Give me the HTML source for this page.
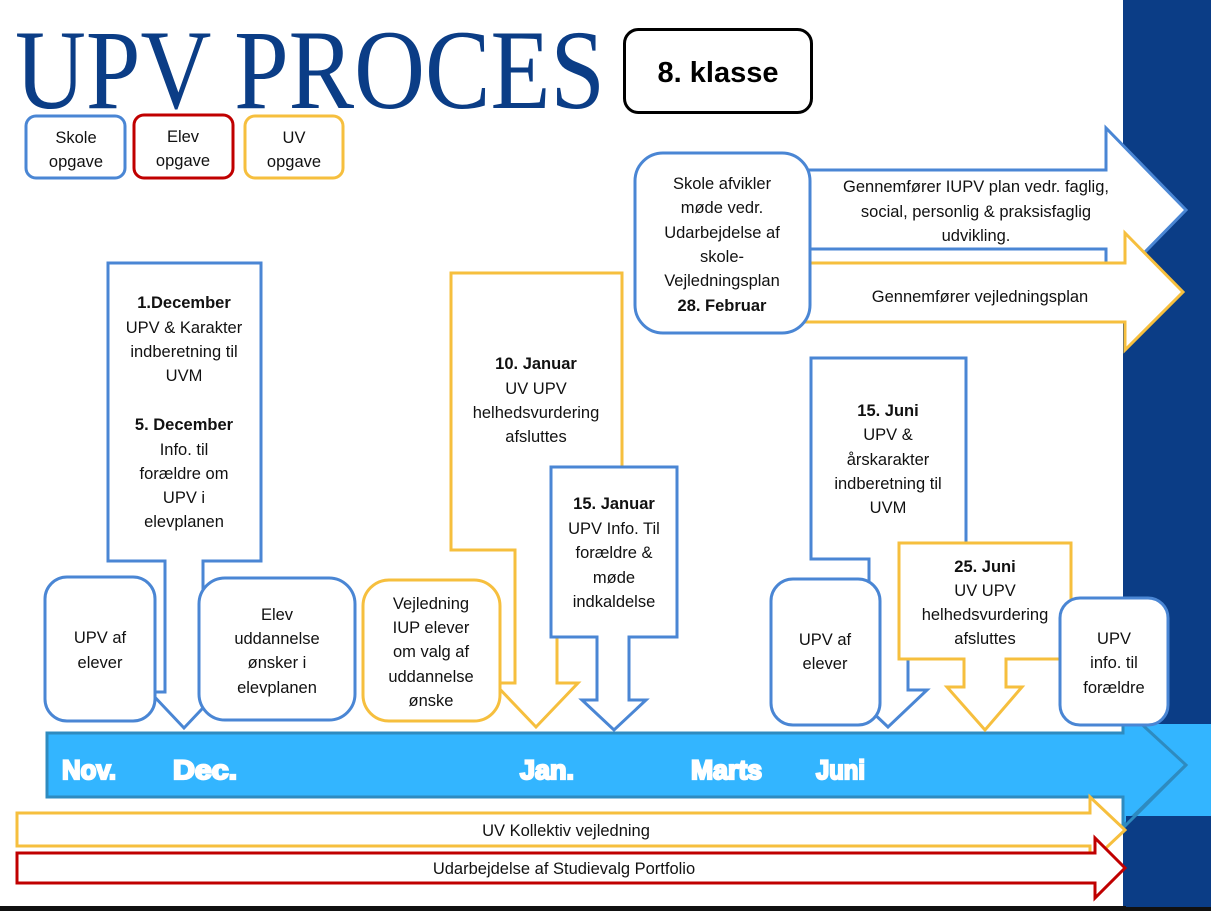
<!DOCTYPE html>
<html><head><meta charset="utf-8"><style>
html,body{margin:0;padding:0;background:#fff;}
svg{display:block;}
text{font-family:"Liberation Sans",sans-serif;font-size:16.5px;fill:#111;}
.b{font-weight:bold;}
</style></head><body>
<svg width="1211" height="911" viewBox="0 0 1211 911" xmlns="http://www.w3.org/2000/svg">
<rect width="1211" height="911" fill="#fff"/>
<!-- right navy band -->
<rect x="1123" y="0" width="88" height="907" fill="#0b3d86"/>
<rect x="1123" y="724" width="88" height="92" fill="#33b5ff"/>
<rect x="0" y="906" width="1211" height="5" fill="#111"/>

<!-- timeline -->
<polygon points="47,733 1123,733 1123,707 1186,765 1123,826 1123,797 47,797" fill="#33b5ff" stroke="#2e8bc0" stroke-width="3"/>
<rect x="1123" y="0" width="88" height="724" fill="#0b3d86"/>
<rect x="1126" y="816" width="85" height="91" fill="#0b3d86"/>
<line x1="1186" y1="765" x2="1124" y2="827" stroke="#2e8bc0" stroke-width="3"/>
<g style="font-family:'Liberation Sans',sans-serif;font-weight:900;font-size:27px;stroke:#fff;stroke-width:2.2;">
<text x="62" y="779" textLength="54" lengthAdjust="spacingAndGlyphs" style="fill:#fff;font-size:27px;font-weight:bold">Nov.</text>
<text x="173" y="779" textLength="64" lengthAdjust="spacingAndGlyphs" style="fill:#fff;font-size:27px;font-weight:bold">Dec.</text>
<text x="520" y="779" textLength="54" lengthAdjust="spacingAndGlyphs" style="fill:#fff;font-size:27px;font-weight:bold">Jan.</text>
<text x="691" y="779" textLength="71" lengthAdjust="spacingAndGlyphs" style="fill:#fff;font-size:27px;font-weight:bold">Marts</text>
<text x="816" y="779" textLength="49" lengthAdjust="spacingAndGlyphs" style="fill:#fff;font-size:27px;font-weight:bold">Juni</text>
</g>

<!-- title -->
<text x="15" y="108" textLength="590" lengthAdjust="spacingAndGlyphs" style="font-family:'Liberation Serif',serif;font-size:113px;fill:#0b3d86;">UPV PROCES</text>
<rect x="624.5" y="29.5" width="187" height="83" rx="14" fill="#fff" stroke="#000" stroke-width="3"/>
<text x="718" y="82" text-anchor="middle" class="b" style="font-size:29px;fill:#000;">8. klasse</text>

<!-- legend -->
<rect x="26" y="116" width="99" height="62" rx="10" fill="#fff" stroke="#4a86d4" stroke-width="3"/>
<rect x="134" y="115" width="99" height="63" rx="10" fill="#fff" stroke="#c00000" stroke-width="3"/>
<rect x="245" y="116" width="98" height="62" rx="10" fill="#fff" stroke="#f6bf3e" stroke-width="3"/>
<g text-anchor="middle">
<text x="76" y="143">Skole</text><text x="76" y="167">opgave</text>
<text x="183" y="142">Elev</text><text x="183" y="166">opgave</text>
<text x="294" y="143">UV</text><text x="294" y="167">opgave</text>
</g>

<!-- top right arrows -->
<polygon points="808,170 1106,170 1106,128 1186,210 1106,292 1106,249 808,249" fill="#fff" stroke="#4a86d4" stroke-width="3"/>
<polygon points="800,263 1125,263 1125,233 1183,292 1125,350 1125,322 800,322" fill="#fff" stroke="#f6bf3e" stroke-width="3"/>
<rect x="635" y="153" width="175" height="180" rx="28" fill="#fff" stroke="#4a86d4" stroke-width="3"/>
<g text-anchor="middle">
<text x="722" y="189">Skole afvikler</text>
<text x="722" y="213">møde vedr.</text>
<text x="722" y="238">Udarbejdelse af</text>
<text x="722" y="262">skole-</text>
<text x="722" y="286">Vejledningsplan</text>
<text x="722" y="311" class="b">28. Februar</text>
<text x="976" y="192">Gennemfører IUPV plan vedr. faglig,</text>
<text x="976" y="217">social, personlig &amp; praksisfaglig</text>
<text x="976" y="241">udvikling.</text>
<text x="980" y="302">Gennemfører vejledningsplan</text>
</g>

<!-- bottom arrows -->
<polygon points="17,813 1090,813 1090,797 1125,830 1090,863 1090,846 17,846" fill="#fff" stroke="#f6bf3e" stroke-width="3"/>
<polygon points="17,853 1095,853 1095,838 1125,868 1095,898 1095,883 17,883" fill="#fff" stroke="#c00000" stroke-width="3"/>
<g text-anchor="middle">
<text x="566" y="836">UV Kollektiv vejledning</text>
<text x="564" y="874">Udarbejdelse af Studievalg Portfolio</text>
</g>

<!-- callouts -->
<polygon points="108,263 261,263 261,561 203,561 203,692 218,692 184,728 150,692 165,692 165,561 108,561" fill="#fff" stroke="#4a86d4" stroke-width="3"/>
<polygon points="451,273 622,273 622,550 557,550 557,683 578,683 536,727 494,683 515,683 515,550 451,550" fill="#fff" stroke="#f6bf3e" stroke-width="3"/>
<polygon points="551,467 677,467 677,637 629,637 629,700 646,700 614,730 582,700 597,700 597,637 551,637" fill="#fff" stroke="#4a86d4" stroke-width="3"/>
<polygon points="811,358 966,358 966,559 908,559 908,690 927,690 888,727 849,690 869,690 869,559 811,559" fill="#fff" stroke="#4a86d4" stroke-width="3"/>
<polygon points="899,543 1071,543 1071,659 1006,659 1006,687 1022,687 985,730 947,687 964,687 964,659 899,659" fill="#fff" stroke="#f6bf3e" stroke-width="3"/>

<g text-anchor="middle">
<text x="184" y="308" class="b">1.December</text>
<text x="184" y="333">UPV &amp; Karakter</text>
<text x="184" y="357">indberetning til</text>
<text x="184" y="381">UVM</text>
<text x="184" y="430" class="b">5. December</text>
<text x="184" y="455">Info. til</text>
<text x="184" y="479">forældre om</text>
<text x="184" y="503">UPV i</text>
<text x="184" y="527">elevplanen</text>

<text x="536" y="369" class="b">10. Januar</text>
<text x="536" y="394">UV UPV</text>
<text x="536" y="418">helhedsvurdering</text>
<text x="536" y="442">afsluttes</text>

<text x="614" y="509" class="b">15. Januar</text>
<text x="614" y="534">UPV Info. Til</text>
<text x="614" y="558">forældre &amp;</text>
<text x="614" y="583">møde</text>
<text x="614" y="607">indkaldelse</text>

<text x="888" y="416" class="b">15. Juni</text>
<text x="888" y="440">UPV &amp;</text>
<text x="888" y="465">årskarakter</text>
<text x="888" y="489">indberetning til</text>
<text x="888" y="513">UVM</text>

<text x="985" y="572" class="b">25. Juni</text>
<text x="985" y="596">UV UPV</text>
<text x="985" y="620">helhedsvurdering</text>
<text x="985" y="644">afsluttes</text>
</g>

<!-- rounded boxes -->
<rect x="45" y="577" width="110" height="144" rx="22" fill="#fff" stroke="#4a86d4" stroke-width="3"/>
<rect x="199" y="578" width="156" height="142" rx="26" fill="#fff" stroke="#4a86d4" stroke-width="3"/>
<rect x="363" y="580" width="137" height="141" rx="26" fill="#fff" stroke="#f6bf3e" stroke-width="3"/>
<rect x="771" y="579" width="109" height="146" rx="22" fill="#fff" stroke="#4a86d4" stroke-width="3"/>
<rect x="1060" y="598" width="108" height="127" rx="20" fill="#fff" stroke="#4a86d4" stroke-width="3"/>
<g text-anchor="middle">
<text x="100" y="643">UPV af</text>
<text x="100" y="668">elever</text>
<text x="277" y="620">Elev</text>
<text x="277" y="644">uddannelse</text>
<text x="277" y="668">ønsker i</text>
<text x="277" y="693">elevplanen</text>
<text x="431" y="609">Vejledning</text>
<text x="431" y="633">IUP elever</text>
<text x="431" y="657">om valg af</text>
<text x="431" y="682">uddannelse</text>
<text x="431" y="706">ønske</text>
<text x="825" y="645">UPV af</text>
<text x="825" y="669">elever</text>
<text x="1114" y="644">UPV</text>
<text x="1114" y="668">info. til</text>
<text x="1114" y="693">forældre</text>
</g>
</svg>
</body></html>
